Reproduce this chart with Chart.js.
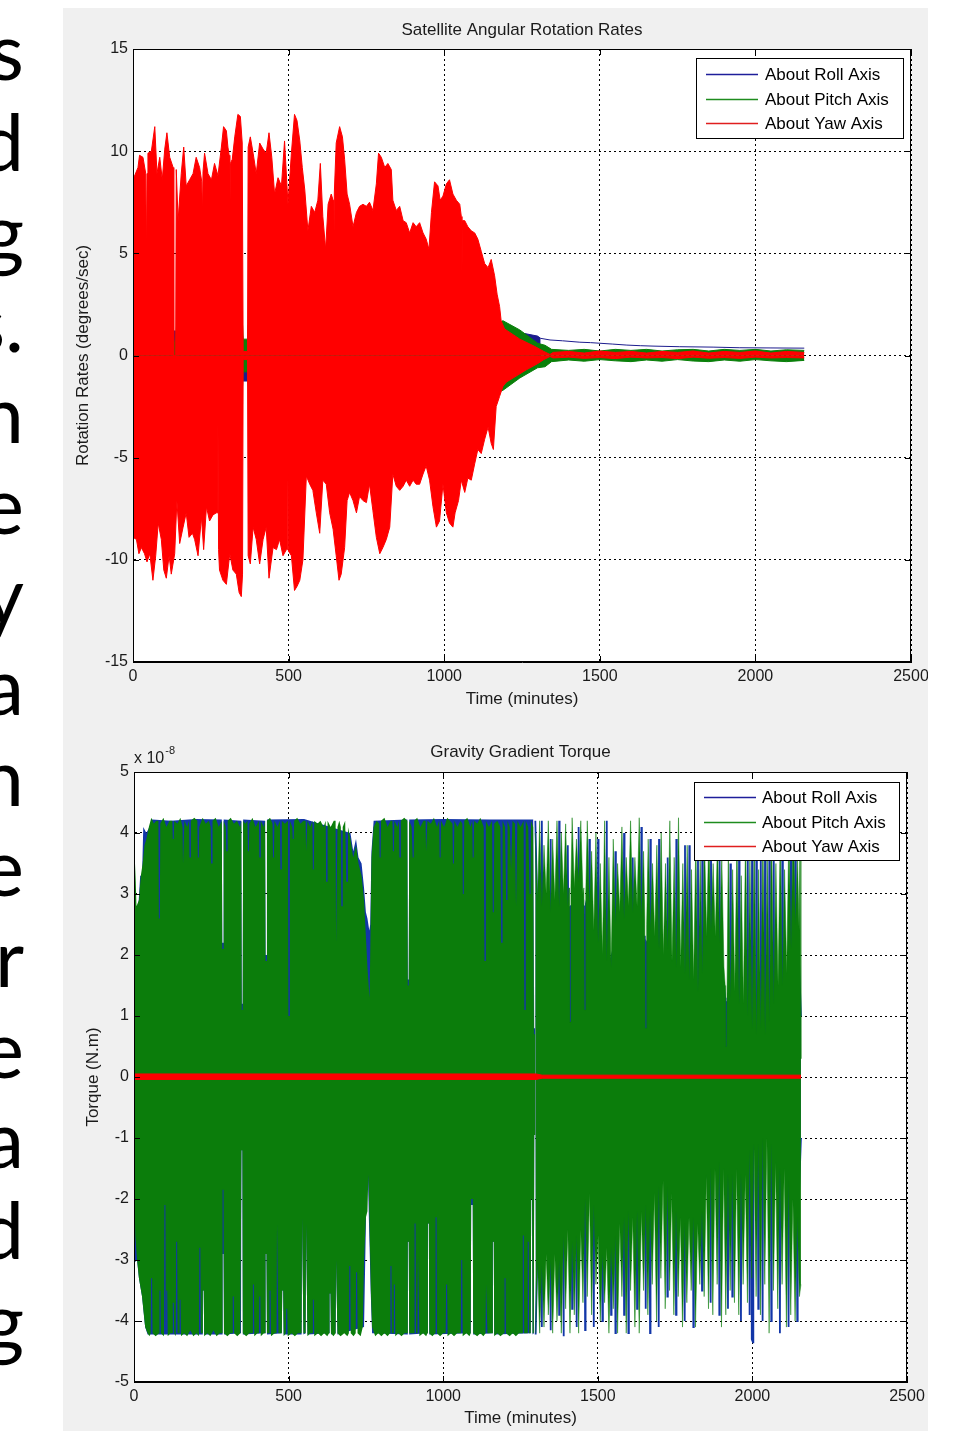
<!DOCTYPE html>
<html>
<head>
<meta charset="utf-8">
<script src="https://cdn.jsdelivr.net/npm/chart.js@4.4.0/dist/chart.umd.min.js"></script>
<style>
  body { margin: 0; background: #fff; width: 976px; height: 1431px; overflow: hidden; position: relative; }
  #slide { position: absolute; left: -300px; top: 4px; width: 324px; text-align: right;
           font: 80px/90.7px Lato, "Open Sans", sans-serif; color: #000; }
  #panel { position: absolute; left: 63px; top: 8px; width: 865px; height: 1423px; background: #f0f0f0; }
  canvas { position: absolute; left: 63px; }
  #rates { top: 8px; }
  #torque { top: 720px; }
</style>
</head>
<body>
<div id="slide">s<br>d<br>g<br>s.<br>n<br>e<br>y<br>a<br>n<br>e<br>r<br>e<br>a<br>d<br>g</div>
<div id="panel"></div>
<canvas id="rates" width="865" height="712"></canvas>
<canvas id="torque" width="865" height="711"></canvas>
<script>
// ---- axis ticks ----
const timeTicks = [0, 500, 1000, 1500, 2000, 2500];
const rateTicks = [-15, -10, -5, 0, 5, 10, 15];
const torqueTicks = [-5, -4, -3, -2, -1, 0, 1, 2, 3, 4, 5];
const seriesNames = ['About Roll Axis', 'About Pitch Axis', 'About Yaw Axis'];

// ---- rotation rates (deg/s), [time in minutes, value] ----
const rateYawTop = [[0,8.6],[16,9.2],[21,9.8],[32,9.7],[41,8.9],[43,4.6],[45,8.9],[48,9.9],[59,10.0],[70,11.2],[77,8.9],[86,9.7],[94,8.6],[102,10.1],[109,10.9],[118,9.7],[129,9.2],[131,-0.2],[137,-0.2],[139,9.1],[145,6.6],[155,8.9],[163,10.2],[171,8.3],[182,8.6],[193,8.9],[203,9.7],[214,9.2],[221,8.5],[223,6.8],[225,9.0],[230,9.9],[241,8.9],[252,8.6],[262,9.4],[273,8.8],[284,10.2],[291,11.2],[300,11.0],[305,10.2],[309,9.8],[311,6.5],[313,9.4],[319,9.6],[327,10.7],[337,11.8],[345,11.7],[351,10.4],[354,0.2],[368,0.2],[370,10.2],[377,10.7],[386,9.9],[396,8.9],[407,10.4],[418,10.1],[428,9.9],[437,10.9],[446,9.7],[455,7.9],[466,8.7],[477,8.3],[487,10.5],[498,7.4],[509,9.9],[519,11.8],[527,11.5],[536,10.5],[544,9.2],[552,8.1],[562,6.1],[573,7.3],[584,7.0],[594,7.6],[602,9.4],[610,6.8],[619,5.2],[627,7.4],[637,7.9],[643,7.6],[645,4.3],[647,8.0],[653,10.4],[664,11.2],[673,10.7],[680,9.6],[688,7.9],[696,7.4],[707,6.3],[718,7.0],[728,7.3],[739,7.4],[750,7.3],[760,7.5],[771,7.1],[782,8.4],[789,9.9],[798,9.7],[809,9.2],[819,9.4],[830,9.1],[835,7.6],[846,7.1],[857,7.3],[868,6.6],[878,6.5],[889,6.0],[900,6.5],[910,6.3],[921,6.5],[932,6.0],[942,5.7],[951,5.2],[959,7.0],[969,8.5],[980,8.3],[987,7.6],[996,7.8],[1007,8.4],[1017,8.6],[1028,7.9],[1039,7.6],[1050,7.4],[1055,6.8],[1057,3.9],[1059,6.6],[1066,6.6],[1076,6.3],[1087,6.1],[1098,6.0],[1108,5.7],[1119,5.1],[1130,4.5],[1141,4.3],[1151,4.7],[1162,3.9],[1170,3.0],[1178,2.4],[1183,1.7],[1194,1.3],[1243,0.8],[1290,0.45],[1320,0.2],[1340,0.05],[1350,0.15],[1400,0.2],[1450,0.12],[1500,0.22],[1550,0.15],[1600,0.2],[1650,0.12],[1700,0.2],[1750,0.15],[1800,0.22],[1850,0.12],[1900,0.2],[1950,0.15],[2000,0.22],[2050,0.12],[2100,0.2],[2157,0.15]];
const rateYawBottom = [[0,-8.9],[11,-9.0],[19,-9.7],[27,-9.4],[37,-9.7],[45,-10.1],[54,-9.7],[64,-11.0],[73,-9.8],[81,-8.2],[91,-9.0],[99,-10.5],[107,-10.9],[116,-9.8],[123,-10.7],[134,-9.7],[141,-7.1],[150,-9.2],[161,-8.4],[171,-7.7],[180,-8.9],[191,-8.7],[198,-9.0],[209,-9.8],[220,-7.9],[227,-9.5],[236,-7.4],[246,-8.1],[257,-7.8],[268,-7.7],[271,-7.7],[273,-3.2],[275,-9.5],[278,-10.5],[289,-11.0],[300,-11.2],[311,-9.7],[321,-10.5],[332,-10.7],[341,-11.6],[348,-11.8],[352,-10.7],[354,-0.2],[368,-0.2],[370,-9.8],[377,-10.2],[386,-8.4],[396,-9.0],[407,-10.2],[418,-9.0],[428,-8.4],[437,-10.9],[450,-9.4],[461,-9.5],[471,-9.0],[482,-9.8],[493,-9.5],[497,-9.5],[499,-2.8],[501,-9.6],[509,-9.8],[519,-11.5],[527,-11.3],[536,-11.0],[546,-10.0],[557,-5.9],[568,-6.3],[578,-6.6],[589,-7.7],[600,-8.7],[610,-6.1],[621,-6.3],[632,-7.7],[643,-8.5],[653,-9.8],[662,-11.0],[669,-10.7],[680,-9.4],[688,-7.1],[696,-6.7],[707,-7.1],[718,-7.7],[728,-6.9],[739,-7.1],[750,-7.2],[760,-6.3],[771,-7.6],[782,-8.9],[793,-9.7],[803,-9.4],[814,-9.0],[825,-8.4],[835,-5.8],[846,-6.4],[857,-6.6],[868,-6.4],[878,-6.1],[889,-6.4],[900,-6.1],[910,-6.3],[921,-6.3],[932,-5.8],[942,-5.4],[953,-6.1],[964,-7.4],[975,-8.4],[985,-8.1],[996,-6.3],[1007,-7.7],[1017,-8.2],[1028,-8.4],[1035,-7.7],[1046,-7.1],[1055,-6.1],[1066,-6.7],[1076,-6.0],[1087,-6.1],[1098,-5.3],[1108,-4.6],[1119,-4.8],[1130,-4.1],[1141,-3.5],[1151,-4.3],[1158,-4.6],[1167,-2.5],[1178,-2.0],[1189,-1.5],[1200,-1.3],[1264,-0.7],[1300,-0.4],[1320,-0.2],[1340,-0.05],[1350,-0.12],[1400,-0.08],[1450,-0.14],[1500,-0.1],[1550,-0.15],[1600,-0.08],[1650,-0.12],[1700,-0.1],[1750,-0.15],[1800,-0.08],[1850,-0.13],[1900,-0.1],[1950,-0.14],[2000,-0.08],[2050,-0.12],[2100,-0.1],[2157,-0.12]];
const ratePitchTop = [[0,1.5],[128,1.5],[131,0.7],[137,0.7],[140,1.5],[352,1.5],[354,0.8],[368,0.8],[370,1.5],[1150,1.5],[1170,1.6],[1189,1.7],[1243,1.25],[1300,0.6],[1324,0.5],[1345,0.3],[1400,0.25],[1450,0.3],[1500,0.22],[1550,0.3],[1600,0.25],[1650,0.3],[1700,0.22],[1750,0.28],[1800,0.3],[1850,0.22],[1900,0.3],[1950,0.25],[2000,0.3],[2050,0.22],[2100,0.28],[2157,0.25]];
const ratePitchBottom = [[0,-1.5],[352,-1.5],[354,-0.8],[368,-0.8],[370,-1.5],[1150,-1.5],[1170,-1.8],[1189,-1.7],[1243,-1.1],[1300,-0.6],[1324,-0.55],[1345,-0.3],[1400,-0.22],[1450,-0.28],[1500,-0.2],[1550,-0.26],[1600,-0.3],[1650,-0.22],[1700,-0.28],[1750,-0.2],[1800,-0.27],[1850,-0.3],[1900,-0.22],[1950,-0.28],[2000,-0.2],[2050,-0.26],[2100,-0.3],[2157,-0.24]];
const rateRollTop = [[0,1.0],[128,1.0],[131,1.2],[137,1.2],[140,1.0],[352,1.0],[354,0.6],[368,0.6],[370,1.0],[1200,1.2],[1250,1.1],[1300,0.95],[1310,0.84]];
const rateRollBottom = [[0,-1.0],[352,-1.0],[354,-1.25],[368,-1.25],[370,-1.0],[1200,-0.8],[1260,-0.3],[1300,0],[1310,0]];
const rateRollTail = [[1310,0.84],[1340,0.76],[1380,0.72],[1436,0.65],[1470,0.63],[1500,0.6],[1540,0.56],[1587,0.51],[1630,0.48],[1671,0.46],[1757,0.43],[1864,0.41],[1950,0.38],[2050,0.37],[2157,0.36]];

// ---- gravity gradient torque (units of 1e-8 N.m): dense part up to ~1300 min, sparse part after ----
const torqueRollTopDense = [[0,2.9],[6,2.8],[14,2.8],[20,3.3],[26,3.3],[30,4.1],[40,4.0],[50,4.1],[58,4.22],[120,4.2],[200,4.23],[284,4.22],[285.5,2.2],[288.5,2.2],[290,4.22],[347,4.2],[348.5,1.2],[351.5,1.2],[353,4.22],[424,4.2],[425.5,2.0],[428.5,2.0],[430,4.22],[550,4.23],[700,4.0],[709,3.7],[718,3.9],[726,3.6],[736,3.5],[744,3.1],[750,2.7],[755,2.6],[761,2.4],[764,2.5],[768,3.7],[775,4.2],[884,4.22],[885.5,1.6],[888.5,1.6],[890,4.22],[1000,4.23],[1150,4.22],[1291,4.22],[1293.5,0.8],[1296.5,0.8],[1298,4.2]];
const torqueRollTopSparse = [[1298,4.2],[1305,2.6],[1317.5,2.6],[1319,4.2],[1320.5,2.6],[1345.5,2.5],[1347,3.9],[1348.5,2.5],[1373.5,2.6],[1375,4.2],[1376.5,2.6],[1401.5,2.6],[1403,3.8],[1404.5,2.6],[1407,2.8],[1408.5,1.0],[1411.5,1.0],[1413,2.8],[1436.5,2.9],[1438,4.1],[1439.5,2.9],[1455,2.8],[1456.5,1.2],[1459.5,1.2],[1461,2.8],[1471.5,2.6],[1473,3.9],[1474.5,2.4],[1499.5,2.0],[1501,3.9],[1502.5,2.0],[1527.5,1.7],[1529,4.2],[1530.5,1.7],[1555.5,2.2],[1557,3.7],[1558.5,2.3],[1583.5,2.4],[1585,4.0],[1586.5,2.4],[1611.5,2.4],[1613,3.6],[1614.5,2.4],[1639.5,2.3],[1641,4.1],[1642.5,2.3],[1652,2.3],[1653.5,0.9],[1656.5,0.9],[1658,2.2],[1668.5,2.1],[1670,3.9],[1671.5,2.1],[1696.5,1.9],[1698,3.9],[1699.5,1.9],[1724.5,1.8],[1726,3.6],[1727.5,1.8],[1752.5,1.6],[1754,3.9],[1755.5,1.6],[1780.5,1.5],[1782,3.8],[1783.5,1.5],[1794.5,1.4],[1796,3.8],[1797.5,1.4],[1822.5,1.2],[1824,3.6],[1825.5,1.2],[1836.5,1.5],[1838,3.8],[1839.5,1.6],[1864.5,2.1],[1866,3.9],[1867.5,2.1],[1892.5,2.0],[1894,3.6],[1895.5,1.9],[1908,1.5],[1912,1.3],[1913.5,0.6],[1916.5,0.6],[1918,1.2],[1927.5,1.1],[1929,3.5],[1930.5,1.1],[1955.5,1.1],[1957,3.8],[1958.5,1.1],[1983.5,1.1],[1985,3.7],[1986.5,1.1],[1997.5,1.1],[1999,3.9],[2000.5,1.1],[2011.5,1.1],[2013,4.0],[2014.5,1.1],[2025.5,1.1],[2027,4.0],[2028.5,1.1],[2039.5,1.1],[2041,4.1],[2042.5,1.1],[2053.5,1.2],[2055,4.2],[2056.5,1.2],[2067.5,1.1],[2069,3.8],[2070.5,1.2],[2095.5,1.3],[2097,4.1],[2098.5,1.3],[2123.5,1.9],[2125,4.1],[2126.5,1.9],[2137.5,2.2],[2139,4.2],[2140.5,2.2],[2150,2.0],[2157,1.0]];
const torqueRollBottomDense = [[0,-3.05],[10,-3.0],[16,-3.3],[26,-3.6],[36,-4.1],[44,-4.22],[221,-4.22],[222.5,-3.5],[225.5,-3.5],[227,-4.22],[285,-4.22],[286.5,-2.9],[289.5,-2.9],[291,-4.22],[346,-4.2],[347.5,-1.2],[350.5,-1.2],[352,-4.22],[424,-4.2],[425.5,-2.9],[428.5,-2.9],[430,-4.22],[478,-4.2],[479.5,-3.5],[482.5,-3.5],[484,-4.22],[542,-4.22],[543.5,-2.3],[546.5,-2.3],[548,-4.22],[555,-4.2],[556.5,-2.4],[559.5,-2.4],[561,-4.22],[631,-4.2],[632.5,-3.55],[635.5,-3.55],[637,-4.22],[652,-4.2],[653.5,-3.0],[656.5,-3.0],[658,-4.22],[744,-4.1],[750,-2.4],[755,-1.2],[760,-2.4],[766,-3.6],[770,-4.2],[884,-4.22],[885.5,-2.7],[888.5,-2.7],[890,-4.22],[949,-4.2],[950.5,-2.4],[953.5,-2.4],[955,-4.22],[1089,-4.2],[1090.5,-2.1],[1095.5,-2.1],[1097,-4.22],[1159,-4.2],[1160.5,-2.7],[1163.5,-2.7],[1165,-4.22],[1283,-4.2],[1284.5,-2.0],[1287.5,-2.0],[1289,-4.22],[1293,-4.2],[1294.5,-0.95],[1297.5,-0.95],[1299,-4.22]];
const torqueRollBottomSparse = [[1299,-4.22],[1305,-2.8],[1317.5,-2.8],[1319,-4.1],[1320.5,-2.8],[1345.5,-2.8],[1347,-4.15],[1348.5,-2.8],[1373.5,-2.8],[1375,-3.9],[1376.5,-2.7],[1387.5,-2.4],[1389,-4.25],[1390.5,-2.4],[1415.5,-2.5],[1417,-3.8],[1418.5,-2.4],[1429.5,-2.4],[1431,-4.1],[1432.5,-2.4],[1457.5,-1.8],[1459,-4.15],[1460.5,-1.8],[1485.5,-1.9],[1487,-4.1],[1488.5,-2.0],[1513.5,-2.6],[1515,-4.0],[1516.5,-2.6],[1541.5,-2.6],[1543,-3.9],[1544.5,-2.5],[1555.5,-2.4],[1557,-4.2],[1558.5,-2.4],[1583.5,-2.1],[1585,-3.9],[1586.5,-2.1],[1597.5,-2.0],[1599,-4.2],[1600.5,-2.0],[1625.5,-2.0],[1627,-3.8],[1628.5,-2.0],[1653.5,-1.9],[1655,-3.8],[1656.5,-1.9],[1667.5,-2.0],[1669,-4.2],[1670.5,-2.0],[1695.5,-1.6],[1697,-4.1],[1698.5,-1.6],[1723.5,-1.6],[1725,-3.6],[1726.5,-1.6],[1751.5,-2.0],[1753,-3.9],[1754.5,-2.0],[1779.5,-2.2],[1781,-4.0],[1782.5,-2.2],[1807.5,-2.1],[1809,-4.1],[1810.5,-2.1],[1835.5,-2.0],[1837,-3.5],[1838.5,-1.9],[1863.5,-1.3],[1865,-3.7],[1866.5,-1.3],[1891.5,-1.2],[1893,-3.9],[1894.5,-1.2],[1919.5,-1.4],[1921,-3.8],[1922.5,-1.4],[1933.5,-1.4],[1935,-3.6],[1936.5,-1.4],[1961.5,-1.4],[1963,-4.0],[1964.5,-1.4],[1989.5,-1.1],[1991,-3.9],[1992.5,-1.1],[1997,-1.1],[1998,-4.3],[2002,-4.35],[2003,-1.1],[2017.5,-1.0],[2019,-3.8],[2020.5,-1.0],[2031.5,-0.9],[2033,-4.0],[2034.5,-0.9],[2059.5,-1.0],[2061,-4.0],[2062.5,-1.0],[2087.5,-1.3],[2089,-4.2],[2090.5,-1.3],[2115.5,-1.5],[2117,-4.1],[2118.5,-1.5],[2143.5,-2.1],[2145,-4.0],[2146.5,-2.1],[2150,-2.0],[2157,-1.0]];
const torquePitchTopDense = [[0,1.9],[4,3.5],[8,2.8],[16,2.9],[22,3.3],[28,3.5],[34,3.8],[40,3.9],[48,4.1],[56,4.25],[64,4.15],[72,4.2],[79,4.2],[80.5,2.6],[83.5,2.6],[85,4.15],[95,4.25],[105,4.1],[115,4.2],[124,4.2],[125.5,3.9],[128.5,3.9],[130,4.2],[140,4.15],[150,4.25],[157,4.1],[158.5,3.5],[161.5,3.5],[163,4.2],[172,4.1],[178,4.2],[179.5,3.6],[182.5,3.6],[184,4.2],[195,4.25],[205,4.2],[206.5,3.6],[209.5,3.6],[211,4.1],[222,4.25],[232,4.15],[242,4.2],[248,4.1],[249.5,3.5],[252.5,3.5],[254,4.2],[264,4.25],[274,4.1],[284,4.2],[285.5,2.1],[288.5,2.1],[290,4.2],[297,4.1],[298.5,3.7],[301.5,3.7],[303,4.2],[313,4.25],[323,4.15],[333,4.2],[343,4.1],[347,4.2],[348.5,1.1],[351.5,1.1],[353,4.2],[360,4.15],[367,4.2],[368.5,3.7],[371.5,3.7],[373,4.15],[383,4.25],[393,4.1],[404,4.2],[405.5,3.6],[408.5,3.6],[410,4.2],[420,4.1],[424,4.2],[425.5,1.9],[428.5,1.9],[430,4.2],[440,4.25],[448,4.15],[449.5,3.6],[452.5,3.6],[454,4.2],[464,4.1],[472,4.2],[473.5,3.4],[476.5,3.4],[478,4.2],[488,4.15],[498,4.2],[499.5,1.0],[502.5,1.0],[504,4.2],[512,4.1],[513.5,3.9],[516.5,3.9],[518,4.2],[528,4.25],[538,4.15],[548,4.2],[555,4.2],[556.5,3.7],[559.5,3.7],[561,4.2],[570,4.1],[577,4.2],[578.5,3.4],[581.5,3.4],[583,4.2],[593,4.15],[603,4.2],[613,4.1],[620,4.2],[621.5,3.2],[624.5,3.2],[626,4.2],[636,4.1],[646,4.2],[652,4.2],[653.5,2.2],[656.5,2.2],[658,4.1],[664,4.2],[669,4.1],[670.5,2.8],[673.5,2.8],[675,4.1],[683,4.2],[686.5,3.2],[689.5,3.2],[692,4.1],[700,3.9],[709,3.6],[718,3.8],[726,3.5],[736,3.3],[744,2.9],[750,2.3],[755,1.8],[759,1.5],[762,1.3],[765,2.4],[768,3.6],[775,4.1],[785,4.2],[793,4.15],[794.5,3.6],[797.5,3.6],[799,4.2],[810,4.25],[820,4.1],[830,4.2],[836,4.2],[837.5,3.7],[840.5,3.7],[842,4.2],[852,4.1],[857,4.2],[858.5,3.6],[861.5,3.6],[863,4.2],[874,4.25],[884,4.2],[885.5,1.5],[888.5,1.5],[890,4.2],[898,4.1],[901.5,3.6],[904.5,3.6],[906,4.2],[916,4.25],[926,4.1],[936,4.2],[943,4.2],[944.5,3.7],[947.5,3.7],[949,4.2],[960,4.15],[970,4.25],[980,4.1],[987,4.2],[988.5,3.6],[991.5,3.6],[993,4.2],[1003,4.1],[1013,4.25],[1022,4.2],[1030,4.15],[1031.5,3.5],[1034.5,3.5],[1036,4.2],[1046,4.1],[1056,4.2],[1062,4.15],[1063.5,3.0],[1066.5,3.0],[1068,4.2],[1078,4.25],[1088,4.1],[1094,4.2],[1095.5,3.6],[1098.5,3.6],[1100,4.2],[1110,4.15],[1120,4.25],[1131,4.1],[1133.5,1.9],[1136.5,1.9],[1138,4.2],[1148,4.1],[1158,4.2],[1160.5,2.7],[1163.5,2.7],[1165,4.15],[1175,4.2],[1185,4.1],[1187.5,2.2],[1190.5,2.2],[1192,4.2],[1200,4.1],[1203.5,2.9],[1206.5,2.9],[1208,4.2],[1215,4.1],[1219.5,3.4],[1222.5,3.4],[1224,4.2],[1232,4.15],[1235.5,2.8],[1238.5,2.8],[1240,4.2],[1250,4.1],[1260,4.2],[1262.5,1.1],[1265.5,1.1],[1267,4.2],[1275,4.1],[1279.5,3.0],[1282.5,3.0],[1284,4.2],[1291,4.1],[1293.5,0.7],[1296.5,0.7],[1298,4.0]];
const torquePitchTopSparse = [[1298,4.0],[1305,2.9],[1312,4.2],[1319,2.8],[1326,3.8],[1333,3.0],[1340,4.2],[1347,2.7],[1354,3.9],[1361,2.9],[1368,4.2],[1375,2.8],[1382,4.0],[1389,3.0],[1396,4.15],[1403,2.8],[1407,3.1],[1408.5,0.9],[1411.5,0.9],[1413,3.1],[1417,4.25],[1424,3.1],[1431,3.9],[1438,3.2],[1445,4.2],[1452,3.0],[1455,3.1],[1456.5,1.1],[1459.5,1.1],[1461,3.0],[1466,4.2],[1473,2.8],[1480,3.7],[1487,2.4],[1494,4.0],[1501,2.2],[1508,3.5],[1515,2.0],[1522,4.2],[1529,1.9],[1536,3.6],[1543,1.8],[1550,3.9],[1557,2.5],[1564,3.5],[1571,2.7],[1578,4.1],[1585,2.6],[1592,3.6],[1599,2.8],[1606,4.2],[1613,2.7],[1620,3.6],[1627,2.8],[1634,4.25],[1641,2.6],[1648,3.7],[1652,2.6],[1653.5,0.8],[1656.5,0.8],[1658,2.5],[1663,3.9],[1670,2.4],[1677,3.5],[1684,2.3],[1691,3.8],[1698,2.1],[1705,4.0],[1712,2.0],[1719,3.5],[1726,2.1],[1733,4.2],[1740,1.9],[1747,3.6],[1754,1.8],[1761,4.25],[1768,1.8],[1775,3.5],[1782,1.7],[1789,3.8],[1796,1.6],[1803,3.4],[1810,1.6],[1817,3.9],[1824,1.4],[1831,3.6],[1838,1.7],[1845,3.9],[1852,2.3],[1859,4.0],[1866,2.4],[1873,3.5],[1880,2.3],[1887,3.9],[1894,2.2],[1901,3.6],[1908,1.8],[1912,1.5],[1913.5,0.5],[1916.5,0.5],[1918,1.4],[1922,3.8],[1929,1.3],[1936,3.4],[1943,1.4],[1950,3.9],[1957,1.2],[1964,3.3],[1971,1.2],[1978,4.0],[1985,1.0],[1992,3.6],[1999,0.8],[2006,3.9],[2013,0.7],[2020,3.4],[2027,0.8],[2034,4.0],[2041,0.7],[2048,3.6],[2055,0.9],[2062,4.1],[2069,1.2],[2076,3.5],[2083,1.5],[2090,4.0],[2097,1.5],[2104,3.4],[2111,1.7],[2118,4.1],[2125,2.1],[2132,4.2],[2139,2.5],[2146,3.6],[2151,2.4],[2154,4.0],[2157,0.3]];
const torquePitchBottomDense = [[0,-1.4],[4,-2.6],[10,-3.0],[16,-3.3],[26,-3.6],[36,-4.1],[44,-4.2],[50,-4.25],[54,-4.2],[55.5,-3.3],[58.5,-3.3],[60,-4.2],[70,-4.25],[81,-4.2],[82.5,-3.5],[85.5,-3.5],[87,-4.2],[97,-4.25],[98.5,-2.1],[101.5,-2.1],[103,-4.2],[104.5,-3.5],[107.5,-3.5],[109,-4.25],[118,-4.2],[124,-4.2],[125.5,-3.7],[128.5,-3.7],[130,-4.2],[135,-4.25],[136.5,-2.7],[139.5,-2.7],[141,-4.2],[146,-4.2],[147.5,-3.65],[150.5,-3.65],[152,-4.25],[162,-4.2],[172,-4.25],[182,-4.15],[192,-4.25],[202,-4.2],[210,-4.25],[211.5,-2.8],[214.5,-2.8],[216,-4.2],[221,-4.2],[222.5,-3.5],[225.5,-3.5],[227,-4.25],[237,-4.2],[247,-4.25],[257,-4.15],[267,-4.25],[277,-4.2],[285,-4.2],[286.5,-1.85],[289.5,-1.85],[291,-4.2],[302,-4.25],[312,-4.2],[318,-4.2],[319.5,-3.6],[322.5,-3.6],[324,-4.2],[334,-4.25],[344,-4.2],[346,-4.2],[347.5,-1.2],[350.5,-1.2],[352,-4.2],[363,-4.25],[373,-4.2],[383,-4.2],[384.5,-3.4],[387.5,-3.4],[389,-4.25],[399,-4.2],[404,-4.2],[405.5,-3.6],[408.5,-3.6],[410,-4.25],[420,-4.2],[424,-4.2],[425.5,-2.9],[428.5,-2.9],[430,-4.2],[437,-4.2],[438.5,-3.5],[441.5,-3.5],[443,-4.25],[455,-4.2],[461,-4.2],[462.5,-2.4],[465.5,-2.4],[467,-4.2],[478,-4.2],[479.5,-3.5],[482.5,-3.5],[484,-4.25],[491,-4.2],[492.5,-3.8],[495.5,-3.8],[497,-4.25],[510,-4.2],[520,-4.25],[530,-4.2],[542,-4.2],[543.5,-2.3],[546.5,-2.3],[548,-4.2],[555,-4.2],[556.5,-2.4],[559.5,-2.4],[561,-4.25],[570,-4.2],[577,-4.2],[578.5,-3.65],[581.5,-3.65],[583,-4.25],[595,-4.2],[605,-4.25],[615,-4.2],[625,-4.25],[631,-4.2],[632.5,-3.55],[635.5,-3.55],[637,-4.2],[645,-4.25],[652,-4.2],[653.5,-3.0],[656.5,-3.0],[658,-4.2],[668,-4.25],[680,-4.2],[690,-4.25],[695,-4.2],[696.5,-3.1],[699.5,-3.1],[701,-4.2],[710,-4.25],[717,-4.2],[718.5,-3.2],[721.5,-3.2],[723,-4.2],[733,-4.25],[740,-4.1],[744,-3.0],[750,-2.3],[755,-2.2],[758,-1.6],[762,-2.5],[766,-3.5],[770,-4.1],[780,-4.25],[790,-4.2],[800,-4.25],[810,-4.2],[820,-4.25],[828,-4.2],[829.5,-3.1],[832.5,-3.1],[834,-4.2],[839,-4.2],[840.5,-3.4],[843.5,-3.4],[845,-4.25],[855,-4.2],[865,-4.25],[875,-4.2],[884,-4.2],[885.5,-2.7],[888.5,-2.7],[890,-4.2],[906,-4.2],[907.5,-2.4],[910.5,-2.4],[912,-4.2],[917,-4.2],[918.5,-2.9],[921.5,-2.9],[923,-4.25],[935,-4.2],[945,-4.25],[949,-4.2],[950.5,-2.4],[953.5,-2.4],[955,-4.2],[965,-4.25],[974,-4.2],[975.5,-2.3],[978.5,-2.3],[980,-4.2],[990,-4.25],[1000,-4.2],[1008,-4.2],[1009.5,-3.4],[1012.5,-3.4],[1014,-4.25],[1025,-4.2],[1035,-4.25],[1045,-4.2],[1057,-4.2],[1058.5,-3.0],[1061.5,-3.0],[1063,-4.25],[1075,-4.2],[1085,-4.25],[1089,-4.2],[1090.5,-2.0],[1095.5,-2.0],[1097,-4.2],[1110,-4.25],[1120,-4.2],[1130,-4.25],[1137,-4.2],[1138.5,-3.4],[1141.5,-3.4],[1143,-4.2],[1159,-4.2],[1160.5,-2.7],[1163.5,-2.7],[1165,-4.25],[1175,-4.2],[1185,-4.25],[1197,-4.2],[1198.5,-3.3],[1201.5,-3.3],[1203,-4.2],[1215,-4.25],[1225,-4.2],[1235,-4.25],[1245,-4.2],[1256,-4.2],[1257.5,-2.6],[1260.5,-2.6],[1262,-4.2],[1272,-4.2],[1273.5,-2.7],[1276.5,-2.7],[1278,-4.2],[1283,-4.2],[1284.5,-2.0],[1287.5,-2.0],[1289,-4.2],[1293,-4.2],[1294.5,-0.95],[1297.5,-0.95],[1299,-4.2]];
const torquePitchBottomSparse = [[1299,-4.2],[1305,-3.0],[1312,-4.2],[1319,-3.1],[1326,-4.1],[1333,-2.9],[1340,-3.9],[1347,-3.0],[1354,-4.2],[1361,-2.9],[1368,-4.0],[1375,-3.0],[1382,-4.2],[1389,-2.6],[1396,-3.8],[1403,-2.5],[1410,-4.2],[1417,-2.7],[1424,-3.9],[1431,-2.6],[1438,-4.2],[1445,-2.5],[1452,-3.7],[1459,-2.0],[1466,-3.6],[1473,-1.9],[1480,-3.9],[1487,-2.1],[1494,-3.4],[1501,-2.6],[1508,-4.0],[1515,-2.9],[1522,-3.7],[1529,-2.8],[1536,-4.2],[1543,-2.8],[1550,-3.8],[1557,-2.6],[1564,-4.2],[1571,-2.4],[1578,-3.6],[1585,-2.3],[1592,-4.2],[1599,-2.2],[1606,-3.5],[1613,-2.3],[1620,-4.1],[1627,-2.2],[1634,-4.2],[1641,-2.2],[1648,-3.5],[1655,-2.1],[1662,-3.9],[1669,-2.2],[1676,-3.4],[1683,-1.9],[1690,-4.0],[1697,-1.8],[1704,-3.3],[1711,-1.7],[1718,-3.8],[1725,-1.8],[1732,-3.5],[1739,-1.9],[1746,-3.9],[1753,-2.2],[1760,-3.6],[1767,-2.3],[1774,-4.1],[1781,-2.4],[1788,-3.7],[1795,-2.3],[1802,-3.5],[1809,-2.3],[1816,-4.1],[1823,-2.4],[1830,-3.4],[1837,-2.2],[1844,-3.6],[1851,-1.6],[1858,-3.8],[1865,-1.5],[1872,-3.9],[1879,-1.5],[1886,-3.4],[1893,-1.4],[1900,-4.1],[1907,-1.5],[1914,-3.9],[1921,-1.6],[1928,-3.5],[1935,-1.6],[1942,-3.7],[1949,-1.5],[1956,-3.9],[1963,-1.6],[1970,-3.4],[1977,-1.6],[1984,-3.7],[1991,-1.2],[1998,-3.3],[2005,-1.1],[2012,-3.6],[2019,-1.1],[2026,-3.9],[2033,-1.0],[2040,-3.4],[2047,-1.0],[2054,-4.2],[2061,-1.1],[2068,-3.5],[2075,-1.4],[2082,-3.8],[2089,-1.5],[2096,-3.4],[2103,-1.5],[2110,-4.1],[2117,-1.7],[2124,-3.9],[2131,-2.0],[2138,-4.0],[2145,-2.3],[2152,-3.6],[2157,-3.4]];
const torqueYawTop = [[0,0.05],[1300,0.05],[1320,0.03],[2157,0.03]];
const torqueYawBottom = [[0,-0.04],[1300,-0.04],[1320,-0.02],[2157,-0.02]];

const textColor = '#1a1a1a';
Chart.defaults.font.family = '"Liberation Sans", Arial, sans-serif';
Chart.defaults.color = textColor;

function toPoints(pairs) {
    return pairs.map(([x, y]) => ({ x: x, y: y }));
}

// one half of an oscillation envelope, filled back to zero
function band(pairs, color, order, width = 1, fill = 'origin') {
    return { data: toPoints(pairs), borderColor: color, backgroundColor: color, fill: fill, order: order, borderWidth: width };
}

// MATLAB-style axes box, inward ticks, title and legend
const matlabLook = {
    id: 'matlabLook',
    beforeDraw(chart) {
        const { ctx, chartArea: a } = chart;
        ctx.save();
        ctx.fillStyle = '#fff';
        ctx.fillRect(a.left, a.top, a.right - a.left, a.bottom - a.top);
        ctx.restore();
    },
    afterDatasetsDraw(chart) {
        const { ctx, chartArea: a, scales } = chart;
        ctx.save();
        ctx.strokeStyle = '#000';
        ctx.lineWidth = 1;
        ctx.strokeRect(a.left + 0.5, a.top + 0.5, a.right - a.left - 1, a.bottom - a.top - 1);
        ctx.beginPath();
        scales.x.ticks.forEach(t => {
            const px = Math.round(scales.x.getPixelForValue(t.value)) + 0.5;
            ctx.moveTo(px, a.bottom); ctx.lineTo(px, a.bottom - 6);
            ctx.moveTo(px, a.top); ctx.lineTo(px, a.top + 6);
        });
        scales.y.ticks.forEach(t => {
            const py = Math.round(scales.y.getPixelForValue(t.value)) + 0.5;
            ctx.moveTo(a.left, py); ctx.lineTo(a.left + 6, py);
            ctx.moveTo(a.right, py); ctx.lineTo(a.right - 6, py);
        });
        ctx.stroke();
        ctx.restore();
    },
    afterDraw(chart, args, opts) {
        const { ctx, chartArea: a } = chart;
        ctx.save();
        ctx.fillStyle = textColor;
        ctx.textAlign = 'center';
        ctx.textBaseline = 'middle';
        ctx.font = '17px "Liberation Sans", Arial, sans-serif';
        ctx.fillText(opts.title, (a.left + a.right) / 2, a.top + opts.titleOffset);

        if (opts.exponent) {
            ctx.textAlign = 'left';
            ctx.textBaseline = 'alphabetic';
            ctx.font = '16px "Liberation Sans", Arial, sans-serif';
            ctx.fillText('x 10', a.left, a.top - 9);
            const w = ctx.measureText('x 10').width;
            ctx.font = '11px "Liberation Sans", Arial, sans-serif';
            ctx.fillText(opts.exponent, a.left + w + 1, a.top - 18);
        }

        const lg = opts.legend;
        const bx = Math.round(a.right - lg.inset - lg.width);
        const by = Math.round(a.top + lg.top);
        ctx.fillStyle = '#fff';
        ctx.fillRect(bx, by, lg.width, lg.height);
        ctx.strokeStyle = '#000';
        ctx.lineWidth = 1;
        ctx.strokeRect(bx + 0.5, by + 0.5, lg.width, lg.height);
        ctx.font = '17px "Liberation Sans", Arial, sans-serif';
        ctx.textAlign = 'left';
        ctx.textBaseline = 'middle';
        seriesNames.forEach((name, i) => {
            const y = by + lg.rows[i];
            ctx.strokeStyle = lg.colors[i];
            ctx.lineWidth = 1.4;
            ctx.beginPath();
            ctx.moveTo(bx + 10, y + 0.5);
            ctx.lineTo(bx + 62, y + 0.5);
            ctx.stroke();
            ctx.fillStyle = '#000';
            ctx.fillText(name, bx + lg.textX, y + 1);
        });
        ctx.restore();
    }
};

function makeChart(canvas, datasets, cfg) {
    const tickFont = { size: 16 };
    const titleFont = { size: 17 };
    return new Chart(canvas, {
        type: 'line',
        data: { datasets: datasets },
        options: {
            responsive: false,
            animation: false,
            devicePixelRatio: 1,
            events: [],
            layout: { padding: { left: 0, top: cfg.top, right: cfg.right, bottom: 0 } },
            elements: { point: { radius: 0 }, line: { tension: 0 } },
            plugins: {
                legend: { display: false },
                tooltip: { enabled: false },
                matlabLook: cfg.look
            },
            scales: {
                x: {
                    type: 'linear', min: 0, max: 2500,
                    afterBuildTicks: s => { s.ticks = timeTicks.map(v => ({ value: v })); },
                    afterFit: s => { s.height = cfg.xHeight; s.paddingLeft = 0; s.paddingRight = 0; },
                    ticks: { padding: 5, font: tickFont, color: textColor, maxRotation: 0, autoSkip: false, callback: v => String(v) },
                    grid: { color: '#000', lineWidth: 1, drawTicks: false },
                    border: { color: '#000', dash: [2, 3] },
                    title: { display: true, text: 'Time (minutes)', font: titleFont, color: textColor, padding: { top: 0, bottom: cfg.xTitlePad } }
                },
                y: {
                    type: 'linear', min: cfg.yTicks[0], max: cfg.yTicks[cfg.yTicks.length - 1],
                    afterBuildTicks: s => { s.ticks = cfg.yTicks.map(v => ({ value: v })); },
                    afterFit: s => { s.width = cfg.yWidth; s.paddingTop = 0; s.paddingBottom = 0; },
                    ticks: { padding: 5, font: tickFont, color: textColor, autoSkip: false, callback: v => String(v) },
                    grid: { color: '#000', lineWidth: 1, drawTicks: false },
                    border: { color: '#000', dash: [2, 3] },
                    title: { display: true, text: cfg.yTitle, font: titleFont, color: textColor, padding: { top: cfg.yTitlePad, bottom: 0 } }
                }
            }
        },
        plugins: [matlabLook]
    });
}

// ---- Satellite angular rotation rates ----
const rateRoll = '#1c1c8e', ratePitch = '#0a800a', rateYaw = '#ff0000';
makeChart(document.getElementById('rates'), [
    band(rateYawTop, rateYaw, 1),
    band(rateYawBottom, rateYaw, 1),
    band(ratePitchTop, ratePitch, 2),
    band(ratePitchBottom, ratePitch, 2),
    band(rateRollTop, rateRoll, 3),
    band(rateRollBottom, rateRoll, 3),
    band(rateRollTail, rateRoll, 0, 1, false)
], {
    top: 41, right: 17, xHeight: 58, yWidth: 70, xTitlePad: 10, yTitlePad: 10,
    yTicks: rateTicks, yTitle: 'Rotation Rates (degrees/sec)',
    look: {
        title: 'Satellite Angular Rotation Rates', titleOffset: -19,
        legend: { inset: 8, top: 9, width: 207, height: 80, rows: [16, 41, 65], textX: 69,
                  colors: ['#1e1e9a', '#1e8c1e', '#e01e1e'] }
    }
});

// ---- Gravity gradient torque ----
const torqueRoll = '#1236a8', torquePitch = '#0b7d0b', torqueYaw = '#ff0000';
makeChart(document.getElementById('torque'), [
    band(torqueYawTop, torqueYaw, 0),
    band(torqueYawBottom, torqueYaw, 0),
    band(torquePitchTopDense, torquePitch, 1, 0),
    band(torquePitchBottomDense, torquePitch, 1, 0),
    band(torquePitchTopSparse, torquePitch, 1, 0.5),
    band(torquePitchBottomSparse, torquePitch, 1, 0.5),
    band(torqueRollTopDense, torqueRoll, 2, 0),
    band(torqueRollBottomDense, torqueRoll, 2, 0),
    band(torqueRollTopSparse, torqueRoll, 2, 1.8),
    band(torqueRollBottomSparse, torqueRoll, 2, 1.8)
], {
    top: 52, right: 21, xHeight: 49, yWidth: 71, xTitlePad: 2, yTitlePad: 20,
    yTicks: torqueTicks, yTitle: 'Torque (N.m)',
    look: {
        title: 'Gravity Gradient Torque', titleOffset: -20, exponent: '-8',
        legend: { inset: 8, top: 10, width: 205, height: 78, rows: [15, 40, 64], textX: 68,
                  colors: ['#1e1e9a', '#1e8c1e', '#e01e1e'] }
    }
});
</script>
</body>
</html>
